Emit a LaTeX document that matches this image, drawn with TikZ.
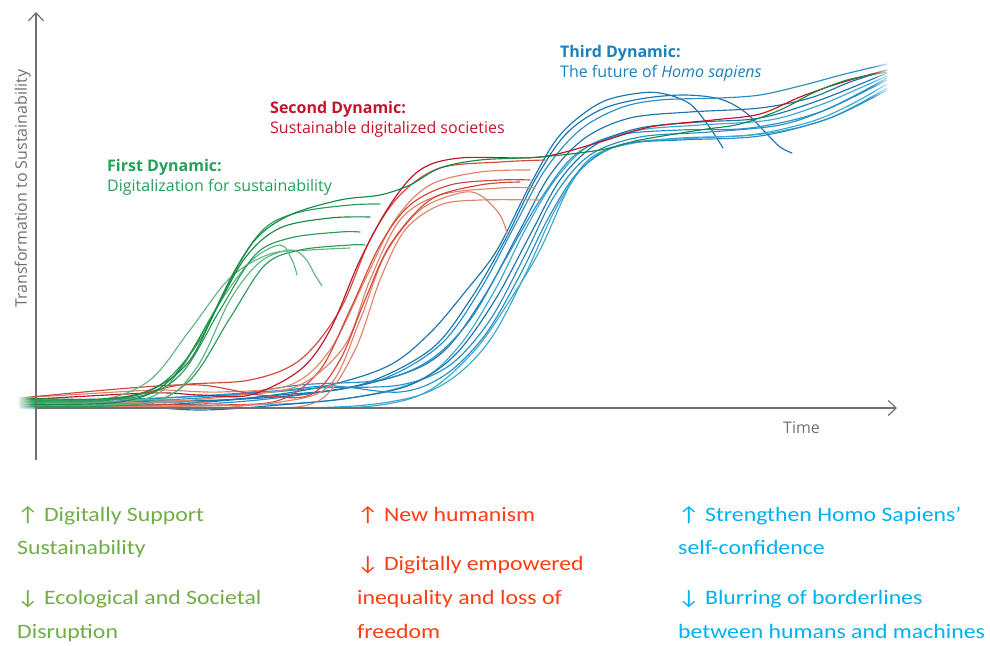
\documentclass[tikz,border=0pt]{standalone}
\usepackage{fontspec}
\setmainfont{Carlito}
\newfontfamily\chartfont{Open Sans}
\newfontfamily\botfont[FakeStretch=1.16]{Carlito}
\usetikzlibrary{arrows.meta,fadings}
\definecolor{axisgray}{HTML}{707070}
\definecolor{gA}{HTML}{178A45}
\definecolor{gB}{HTML}{2A9C5A}
\definecolor{gC}{HTML}{62B583}
\definecolor{rA}{HTML}{C0142A}
\definecolor{rB}{HTML}{D2473A}
\definecolor{rC}{HTML}{E2826A}
\definecolor{bA}{HTML}{1A74AE}
\definecolor{bB}{HTML}{2690C4}
\definecolor{bC}{HTML}{3AA8D0}
\definecolor{titleG}{HTML}{24A05A}
\definecolor{titleR}{HTML}{C4142C}
\definecolor{titleB}{HTML}{1D80BB}
\definecolor{botG}{HTML}{70AD47}
\definecolor{botR}{HTML}{FF3D14}
\definecolor{botB}{HTML}{00B0F0}
\tikzset{
  curve/.style={line width=1.15pt, line cap=round},
  axisline/.style={axisgray, line width=1.2pt, -{Straight Barb[length=8pt,width=15pt,line width=1.2pt]}},
  charttext/.style={anchor=base west, inner sep=0pt, font=\chartfont\fontsize{16}{19}\selectfont},
  charttitle/.style={charttext, font=\chartfont\bfseries\fontsize{16}{19}\selectfont},
  bottext/.style={anchor=base west, inner sep=0pt, font=\botfont\fontsize{20.5}{24}\selectfont},
}
\begin{document}
\begin{tikzpicture}[x=1pt,y=-1pt]
\useasboundingbox (0,0) rectangle (990,645);
% ---------- blue curves ----------
\draw[curve,bA] plot[smooth,tension=0.55] coordinates {(20,404)(150,405)(250,398)(330,385)(390,365)(430,333)(465,292)(497,250)(530,185)(560,135)(600,103)(640,93)(665,94)(690,104)(708,125)(723,148)};
\draw[curve,bA] plot[smooth,tension=0.55] coordinates {(20,400)(180,402)(280,395)(360,385)(430,350)(470,300)(505,240)(535,180)(565,135)(600,110)(640,99)(683,95)(720,99)(745,112)(765,132)(780,147)(792,153)};
\draw[curve,bB] plot[smooth,tension=0.55] coordinates {(20,406)(200,404)(300,395)(380,380)(440,345)(480,290)(515,225)(545,170)(580,130)(620,108)(660,100)(720,98)(760,95)(800,86)(845,74)(887,64)};
\draw[curve,bA] plot[smooth,tension=0.55] coordinates {(20,402)(220,400)(320,392)(400,375)(445,350)(485,295)(520,230)(550,175)(585,138)(630,118)(690,112)(760,108)(810,98)(850,82)(887,70)};
\draw[curve,bC] plot[smooth,tension=0.55] coordinates {(20,407)(250,405)(350,398)(420,380)(460,345)(495,290)(525,230)(555,180)(590,145)(640,130)(700,125)(770,120)(820,105)(860,88)(887,76)};
\draw[curve,bB] plot[smooth,tension=0.55] coordinates {(20,403)(230,395)(320,388)(400,385)(450,365)(490,320)(525,255)(555,195)(590,155)(640,137)(710,132)(780,125)(830,108)(887,80)};
\draw[curve,bC] plot[smooth,tension=0.55] coordinates {(20,406)(300,408)(400,400)(450,380)(490,340)(525,275)(555,210)(585,165)(620,145)(680,138)(750,135)(810,122)(850,105)(887,84)};
\draw[curve,bC] plot[smooth,tension=0.55] coordinates {(20,408)(300,408)(380,405)(430,390)(475,350)(510,300)(540,250)(570,185)(595,155)(640,142)(700,138)(770,133)(830,118)(887,88)};
\draw[curve,bB] plot[smooth,tension=0.55] coordinates {(20,405)(200,398)(300,385)(380,380)(430,360)(470,320)(505,260)(540,200)(575,155)(620,135)(680,130)(750,128)(820,112)(887,78)};
\draw[curve,bA] plot[smooth,tension=0.55] coordinates {(20,401)(120,405)(200,410)(280,405)(350,398)(410,385)(455,355)(495,300)(530,235)(560,180)(595,145)(640,128)(700,122)(760,118)(820,100)(887,73)};
\draw[curve,bB] plot[smooth,tension=0.55] coordinates {(20,407)(260,392)(330,386)(400,392)(445,375)(485,335)(520,275)(550,215)(580,170)(620,145)(680,140)(760,136)(830,118)(887,90)};
% ---------- red curves ----------
\draw[curve,rB] plot[smooth,tension=0.55] coordinates {(20,405)(120,398)(180,385)(250,380)(300,360)(340,310)(370,240)(400,195)(440,168)(500,162)(545,160)};
\draw[curve,rC] plot[smooth,tension=0.55] coordinates {(20,398)(100,393)(160,390)(220,392)(290,385)(330,350)(365,280)(395,220)(430,185)(480,172)(530,170)};
\draw[curve,rB] plot[smooth,tension=0.55] coordinates {(20,402)(150,404)(220,405)(280,400)(320,370)(350,310)(380,245)(410,205)(450,185)(500,180)(530,180)};
\draw[curve,rC] plot[smooth,tension=0.55] coordinates {(20,404)(160,402)(240,395)(300,385)(345,345)(370,280)(400,220)(440,195)(500,188)(535,188)};
\draw[curve,rC] plot[smooth,tension=0.55] coordinates {(20,406)(200,406)(280,402)(330,385)(360,320)(385,255)(420,210)(460,193)(480,195)(500,215)(508,237)};
\draw[curve,rC] plot[smooth,tension=0.55] coordinates {(20,400)(170,400)(260,408)(320,400)(355,350)(380,280)(405,230)(440,205)(480,200)(540,200)};
\draw[curve,rB] plot[smooth,tension=0.55] coordinates {(20,398)(130,388)(200,385)(260,395)(310,395)(340,360)(365,300)(390,245)(430,200)(480,185)(520,182)};
\draw[curve,rA] plot[smooth,tension=0.55] coordinates {(20,400)(150,393)(200,395)(250,395)(300,370)(330,330)(360,260)(390,205)(420,170)(460,158)(540,157)(600,142)(650,127)(713,120)(760,114)(800,97)(840,83)(887,70)};
% ---------- green curves ----------
\draw[curve,gC] plot[smooth,tension=0.55] coordinates {(20,402)(100,400)(150,380)(190,330)(230,278)(270,254)(310,250)(350,248)};
\draw[curve,gB] plot[smooth,tension=0.55] coordinates {(20,406)(140,404)(190,380)(230,318)(265,265)(300,250)(350,245)(365,245)};
\draw[curve,gC] plot[smooth,tension=0.55] coordinates {(20,400)(140,400)(180,370)(215,310)(250,262)(280,245)(292,260)(297,275)};
\draw[curve,gC] plot[smooth,tension=0.55] coordinates {(20,404)(150,402)(195,370)(230,300)(260,262)(290,250)(305,258)(315,275)(322,286)};
\draw[curve,gB] plot[smooth,tension=0.55] coordinates {(20,400)(130,398)(180,375)(220,310)(255,255)(290,238)(340,232)(360,232)};
\draw[curve,gA] plot[smooth,tension=0.55] coordinates {(20,404)(120,402)(170,380)(210,320)(245,258)(280,228)(330,218)(370,217)};
\draw[curve,gB] plot[smooth,tension=0.55] coordinates {(20,402)(110,400)(160,385)(200,340)(235,270)(265,228)(300,212)(350,205)(380,204)};
\draw[curve,gA] plot[smooth,tension=0.55] coordinates {(20,398)(100,399)(150,390)(190,360)(225,290)(255,240)(290,215)(340,200)(380,195)(410,185)(440,168)(480,160)(540,157)(600,150)(640,140)(700,130)(740,124)(780,110)(813,93)(847,80)(887,72)};
% fades at the curve ends
\fill[white,path fading=east] (16,385) rectangle (34,415);
\fill[white,path fading=west] (872,55) rectangle (892,100);
% ---------- axes ----------
\coordinate (origin) at (36,408);
\coordinate (ybot) at (36,460);
\coordinate (ytop) at (36,12);
\coordinate (xend) at (897,408);
\draw[axisline] (ybot) -- (ytop);
\draw[axisline] (origin) -- (xend);
\node[charttext, axisgray, rotate=90] (ylab) at (27,308) {Transformation to Sustainability};
\node[charttext, axisgray] (xlab) at (783,433) {Time};
% ---------- dynamics labels ----------
\node[charttitle, titleG] (g1) at (107,171.5) {First Dynamic:};
\node[charttext, titleG] (g2) at (107,191.5) {Digitalization for sustainability};
\node[charttitle, titleR] (r1) at (270,113) {Second Dynamic:};
\node[charttext, titleR] (r2) at (270,133) {Sustainable digitalized societies};
\node[charttitle, titleB] (b1) at (560,57) {Third Dynamic:};
\node[charttext, titleB] (b2) at (560,77) {The future of \textit{Homo sapiens}};
% ---------- bottom texts ----------
\node[bottext, botG] (bg1) at (17,521) {↑ Digitally Support};
\node[bottext, botG] (bg2) at (17,554) {Sustainability};
\node[bottext, botG] (bg3) at (17,604) {↓ Ecological and Societal};
\node[bottext, botG] (bg4) at (17,638) {Disruption};
\node[bottext, botR] (br1) at (357,521) {↑ New humanism};
\node[bottext, botR] (br2) at (357,570) {↓ Digitally empowered};
\node[bottext, botR] (br3) at (357,604) {inequality and loss of};
\node[bottext, botR] (br4) at (357,638) {freedom};
\node[bottext, botB] (bb1) at (678,521) {↑ Strengthen Homo Sapiens’};
\node[bottext, botB] (bb2) at (678,554) {self-confidence};
\node[bottext, botB] (bb3) at (678,604) {↓ Blurring of borderlines};
\node[bottext, botB] (bb4) at (678,638) {between humans and machines};
\end{tikzpicture}
\end{document}
